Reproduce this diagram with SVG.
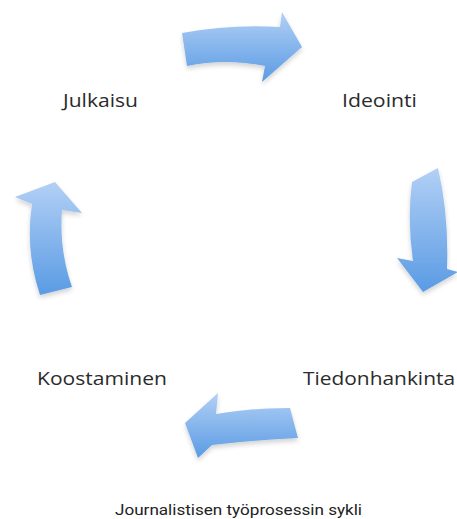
<svg xmlns="http://www.w3.org/2000/svg" width="457" height="519" viewBox="0 0 457 519">
  <defs>
    <linearGradient id="g" x1="0" y1="0" x2="0" y2="1">
      <stop offset="0" stop-color="#b2d0f5"/>
      <stop offset="1" stop-color="#5a9be4"/>
    </linearGradient>
    <filter id="sh" x="-20%" y="-20%" width="140%" height="150%">
      <feGaussianBlur in="SourceAlpha" stdDeviation="2.5"/>
      <feOffset dx="0" dy="3" result="b"/>
      <feComponentTransfer><feFuncA type="linear" slope="0.18"/></feComponentTransfer>
      <feMerge><feMergeNode/><feMergeNode in="SourceGraphic"/></feMerge>
    </filter>
    <style>
      .arrow { fill: url(#g); filter: url(#sh); }
      .lbl { font-family: "Open Sans", "Liberation Sans", sans-serif; font-size: 19px; fill: #2b2b2b; }
      .cap { font-family: Roboto, "Liberation Sans", sans-serif; font-size: 15.5px; fill: #222; }
    </style>
  </defs>
  <rect width="457" height="519" fill="#ffffff"/>
  <g id="connectors">
    <path id="arrow-top" class="arrow" d="M182,33 Q230,24 280,27 L282,12 L302,47 L262,82 L265,66 Q225,58 187,66 Z"/>
    <path id="arrow-right" class="arrow" d="M412,182 Q407,220 413,261 L397,258 L423,292 L458,272 L447,269 Q449,215 438,168 Z"/>
    <path id="arrow-bottom" class="arrow" d="M290,408 Q250,408 216,414 L218,393 L185,423 L198,458 L212,445 Q255,440 298,438 Z"/>
    <path id="arrow-left" class="arrow" d="M40,295 Q25,250 32,204 L15,197 L55,182 L82,213 L62,210 Q59,250 72,287 Z"/>
  </g>
  <g id="node-julkaisu"><text class="lbl" x="63" y="107" textLength="75" lengthAdjust="spacingAndGlyphs">Julkaisu</text></g>
  <g id="node-ideointi"><text class="lbl" x="342" y="107" textLength="75" lengthAdjust="spacingAndGlyphs">Ideointi</text></g>
  <g id="node-koostaminen"><text class="lbl" x="37" y="385" textLength="130" lengthAdjust="spacingAndGlyphs">Koostaminen</text></g>
  <g id="node-tiedonhankinta"><text class="lbl" x="303" y="385" textLength="152" lengthAdjust="spacingAndGlyphs">Tiedonhankinta</text></g>
  <g id="caption"><text class="cap" x="115" y="515" textLength="247" lengthAdjust="spacingAndGlyphs">Journalistisen työprosessin sykli</text></g>
</svg>
